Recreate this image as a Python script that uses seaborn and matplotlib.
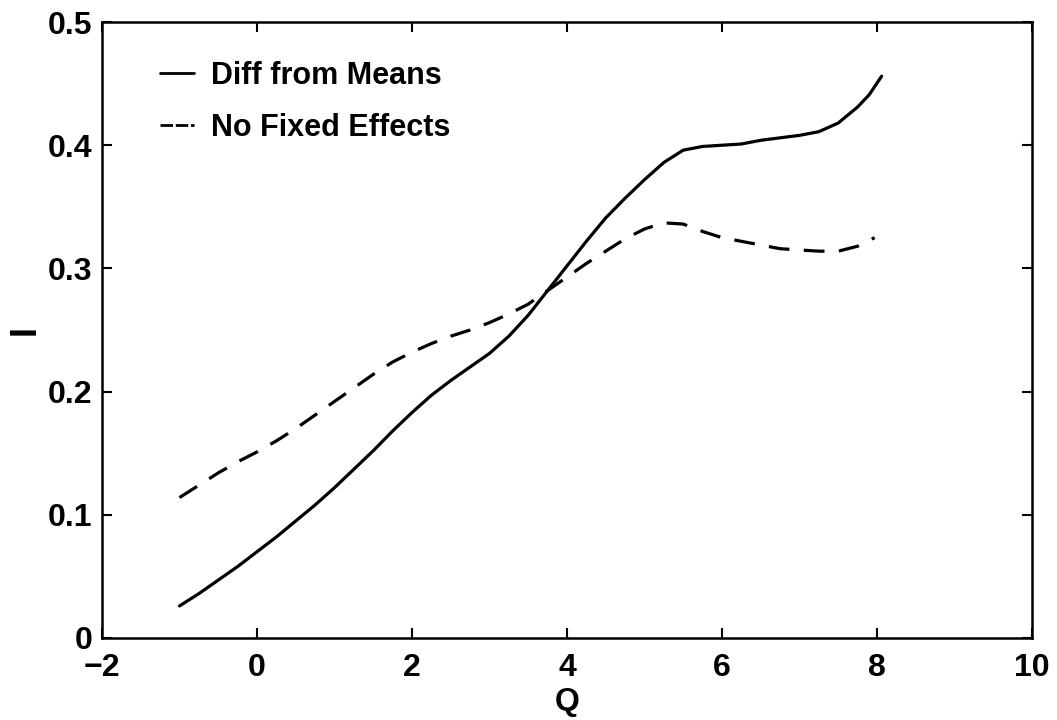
import matplotlib
matplotlib.use("Agg")
import matplotlib.pyplot as plt
import seaborn as sns
import pandas as pd

# Data
q_diff = [-1.0, -0.75, -0.5, -0.25, 0.0, 0.25, 0.5, 0.75, 1.0, 1.25, 1.5, 1.75, 2.0, 2.25, 2.5, 2.75,
          3.0, 3.25, 3.5, 3.75, 4.0, 4.25, 4.5, 4.75, 5.0, 5.25, 5.5, 5.75, 6.0, 6.25, 6.5, 6.75,
          7.0, 7.25, 7.5, 7.75, 7.9, 8.06]
i_diff = [0.026, 0.036, 0.047, 0.058, 0.070, 0.082, 0.095, 0.108, 0.122, 0.137, 0.152, 0.168, 0.183, 0.197, 0.209, 0.220,
          0.231, 0.245, 0.262, 0.282, 0.302, 0.322, 0.341, 0.357, 0.372, 0.386, 0.396, 0.399, 0.400, 0.401, 0.404, 0.406,
          0.408, 0.411, 0.418, 0.431, 0.441, 0.456]

q_nofe = [-1.0, -0.75, -0.5, -0.25, 0.0, 0.25, 0.5, 0.75, 1.0, 1.25, 1.5, 1.75, 2.0, 2.25, 2.5, 2.75,
          3.0, 3.25, 3.5, 3.75, 4.0, 4.25, 4.5, 4.75, 5.0, 5.25, 5.5, 5.75, 6.0, 6.25, 6.5, 6.75,
          7.0, 7.25, 7.5, 7.75, 7.97]
i_nofe = [0.114, 0.124, 0.134, 0.143, 0.151, 0.160, 0.170, 0.181, 0.192, 0.203, 0.214, 0.224, 0.232, 0.239, 0.245, 0.250,
          0.256, 0.263, 0.271, 0.282, 0.293, 0.304, 0.314, 0.324, 0.332, 0.337, 0.336, 0.330, 0.325, 0.322, 0.319, 0.316,
          0.315, 0.314, 0.314, 0.318, 0.325]

labels = ["Diff from Means", "No Fixed Effects"]

sns.set_style("ticks")
plt.rcParams['font.family'] = ['Liberation Sans', 'DejaVu Sans']
plt.rcParams['font.weight'] = 'bold'
for key in ['text.color', 'axes.labelcolor', 'xtick.color', 'ytick.color',
            'xtick.labelcolor', 'ytick.labelcolor', 'legend.labelcolor']:
    plt.rcParams[key] = 'black'

fig = plt.figure(figsize=(10.57, 7.2), dpi=100)
ax = fig.add_axes([0.0965, 0.1139, 0.8798, 0.8555])

df1 = pd.DataFrame({"Q": q_diff, "I": i_diff})
df2 = pd.DataFrame({"Q": q_nofe, "I": i_nofe})
sns.lineplot(data=df1, x="Q", y="I", ax=ax, color="black", linewidth=2.3,
             label=labels[0], sort=False, estimator=None)
sns.lineplot(data=df2, x="Q", y="I", ax=ax, color="black", linewidth=2.3,
             label=labels[1], sort=False, estimator=None)
ax.lines[1].set_dashes((6.5, 4.5))
ax.lines[1].set_dash_capstyle("butt")

ax.set_xlim(-2, 10)
ax.set_ylim(0, 0.5)
ax.set_xticks([-2, 0, 2, 4, 6, 8, 10])
ax.set_yticks([0, 0.1, 0.2, 0.3, 0.4, 0.5])
ax.set_yticklabels(["0", "0.1", "0.2", "0.3", "0.4", "0.5"])
ax.tick_params(direction="in", length=7, width=1.5, labelsize=23,
               top=True, right=True, colors="black", labelcolor="black")
ax.tick_params(axis="x", pad=11)
ax.tick_params(axis="y", pad=7)
for lab in ax.get_xticklabels() + ax.get_yticklabels():
    lab.set_fontweight("bold")
for sp in ax.spines.values():
    sp.set_visible(True)
    sp.set_linewidth(1.8)
    sp.set_color("black")

ax.set_xlabel("Q", fontsize=23, fontweight="bold", labelpad=3, color="black")
ax.set_ylabel("I", fontsize=26, fontweight="bold", labelpad=4, color="black")

leg = ax.legend(loc="upper left", bbox_to_anchor=(0.033, 0.982), frameon=False,
                handlelength=1.1, handletextpad=0.55, labelspacing=0.72,
                prop={"size": 22, "weight": "bold"}, labelcolor="black")
for ln in leg.get_lines():
    ln.set_linewidth(2.0)
leg.get_lines()[1].set_dashes((4.5, 1.0))

fig.savefig("out.png", dpi=100)
